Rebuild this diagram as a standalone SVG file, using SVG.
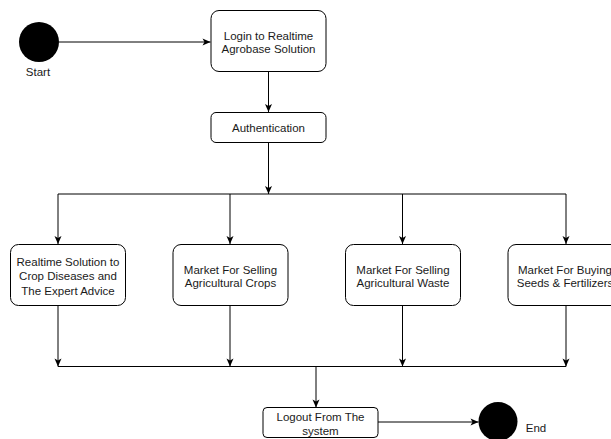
<svg xmlns="http://www.w3.org/2000/svg" width="611" height="439" viewBox="0 0 611 439">
<style>
.box{fill:#fff;stroke:#000;stroke-width:1}
.t{font-family:"Liberation Sans",Arial,sans-serif;font-size:11.5px;fill:#1a1a1a;text-anchor:middle}
.e{fill:none;stroke:#000;stroke-width:1;marker-end:url(#arr)}
.l{fill:none;stroke:#000;stroke-width:1}
</style>
<defs>
<marker id="arr" markerUnits="userSpaceOnUse" markerWidth="10" markerHeight="10" refX="9" refY="5" orient="auto">
<path d="M1,1.5 L9,5 L1,8.5 L3,5 Z" fill="#000"/>
</marker>
</defs>
<rect width="611" height="439" fill="#fff"/>
<g id="connectors">
<path class="e" d="M59,42 H210.5"/>
<path class="e" d="M268.5,72 V112"/>
<path class="e" d="M268.5,143 V194"/>
<path class="l" d="M58,194 H566"/>
<path class="e" d="M58,194 V244"/>
<path class="e" d="M230,194 V244"/>
<path class="e" d="M402.5,194 V244"/>
<path class="e" d="M566,194 V244"/>
<path class="e" d="M58,306 V366.5"/>
<path class="e" d="M230,306 V366.5"/>
<path class="e" d="M402.5,306 V366.5"/>
<path class="e" d="M566,306 V366.5"/>
<path class="l" d="M58,366.5 H566"/>
<path class="e" d="M316,366.5 V407.5"/>
<path class="e" d="M378,422 H478.5"/>
</g>
<g id="start">
<circle cx="39" cy="42" r="20" fill="#000"/>
<text class="t" x="38" y="76">Start</text>
</g>
<g id="login">
<rect class="box" x="211" y="10.5" width="115" height="61" rx="8"/>
<text class="t" x="268.5" y="39.5">Login to Realtime</text>
<text class="t" x="268.5" y="53">Agrobase Solution</text>
</g>
<g id="auth">
<rect class="box" x="211" y="112.5" width="115" height="30" rx="5"/>
<text class="t" x="268.5" y="132">Authentication</text>
</g>
<g id="crop-diseases">
<rect class="box" x="10.5" y="244.5" width="115" height="61" rx="8"/>
<text class="t" x="68" y="266">Realtime Solution to</text>
<text class="t" x="68" y="280">Crop Diseases and</text>
<text class="t" x="68" y="294.5">The Expert Advice</text>
</g>
<g id="sell-crops">
<rect class="box" x="173" y="244.5" width="115" height="61" rx="8"/>
<text class="t" x="230.5" y="273.5">Market For Selling</text>
<text class="t" x="230.5" y="287">Agricultural Crops</text>
</g>
<g id="sell-waste">
<rect class="box" x="345.5" y="244.5" width="115" height="61" rx="8"/>
<text class="t" x="403" y="273.5">Market For Selling</text>
<text class="t" x="403" y="287">Agricultural Waste</text>
</g>
<g id="buy-seeds">
<rect class="box" x="508" y="244.5" width="115" height="61" rx="8"/>
<text class="t" x="565" y="273.5">Market For Buying</text>
<text class="t" x="565" y="287">Seeds &amp; Fertilizers</text>
</g>
<g id="logout">
<rect class="box" x="263" y="407.5" width="115" height="30" rx="4"/>
<text class="t" x="320.5" y="421">Logout From The</text>
<text class="t" x="320.5" y="434.5">system</text>
</g>
<g id="end">
<circle cx="498" cy="421.5" r="19.5" fill="#000"/>
<text class="t" x="536" y="432">End</text>
</g>
</svg>
